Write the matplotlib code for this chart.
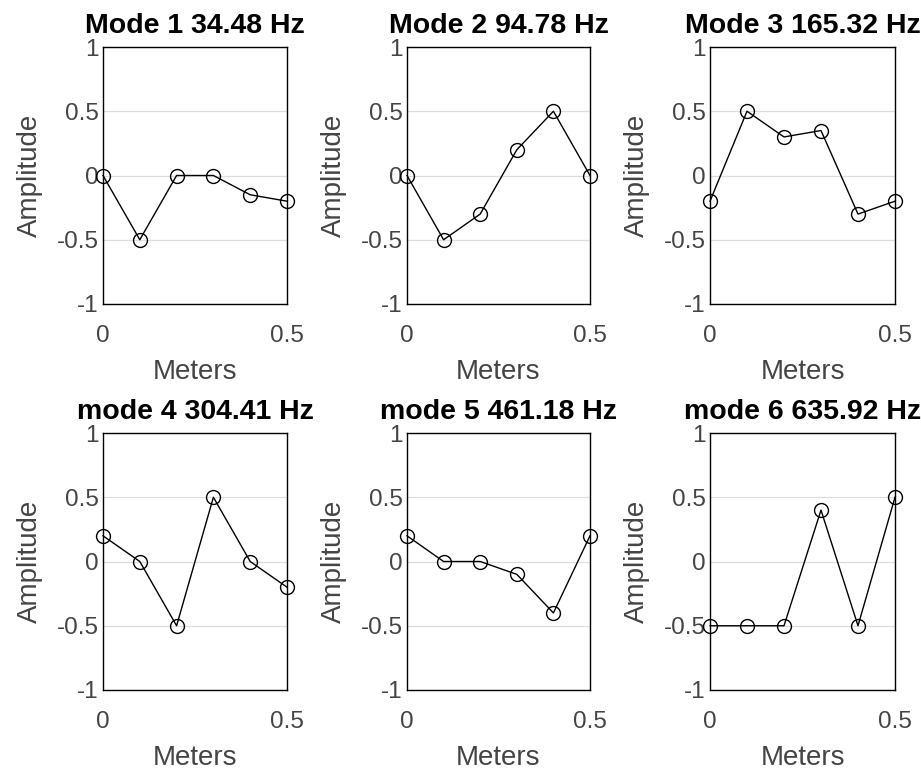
import matplotlib.pyplot as plt
import numpy as np

plt.rcParams['font.family'] = ['Liberation Sans', 'DejaVu Sans']

# posiciones a lo largo de la viga (m)
metros = [0.0, 0.1, 0.2, 0.3, 0.4, 0.5]

titulos = ["Mode 1 34.48 Hz", "Mode 2 94.78 Hz", "Mode 3 165.32 Hz",
           "mode 4 304.41 Hz", "mode 5 461.18 Hz", "mode 6 635.92 Hz"]

modo1 = [0.0, -0.5, 0.0, 0.0, -0.15, -0.2]
modo2 = [0.0, -0.5, -0.3, 0.2, 0.5, 0.0]
modo3 = [-0.2, 0.5, 0.3, 0.35, -0.3, -0.2]
modo4 = [0.2, 0.0, -0.5, 0.5, 0.0, -0.2]
modo5 = [0.2, 0.0, 0.0, -0.1, -0.4, 0.2]
modo6 = [-0.5, -0.5, -0.5, 0.4, -0.5, 0.5]
modos = [modo1, modo2, modo3, modo4, modo5, modo6]

y_ticks = [-1, -0.5, 0, 0.5, 1]
y_labels = ["-1", "-0.5", "0", "0.5", "1"]
x_ticks = [0, 0.5]
x_labels = ["0", "0.5"]

fig = plt.figure(figsize=(9.21, 7.71), dpi=100)

W, H = 921, 771
lefts = [103, 407, 710]
anchos = [184, 183, 185]
tops = [47, 433]
alto = 257

gris = "#444444"

for i, valores in enumerate(modos):
    fila, col = divmod(i, 3)
    ax = fig.add_axes([lefts[col] / W, (H - tops[fila] - alto) / H,
                       anchos[col] / W, alto / H])
    ax.plot(metros, valores, color="black", linewidth=1.0, marker="o",
            markersize=10, markerfacecolor="none", markeredgecolor="black",
            markeredgewidth=1.0, clip_on=False, zorder=3)
    ax.set_xlim(0, 0.5)
    ax.set_ylim(-1, 1)
    ax.set_xticks(x_ticks)
    ax.set_xticklabels(x_labels)
    ax.set_yticks(y_ticks)
    ax.set_yticklabels(y_labels)
    ax.tick_params(axis="both", length=0, labelsize=17.5, labelcolor=gris)
    ax.tick_params(axis="x", pad=15)
    ax.tick_params(axis="y", pad=3)
    ax.grid(axis="y", color="#dddddd", linewidth=0.9)
    ax.set_axisbelow(True)
    for s in ax.spines.values():
        s.set_color("black")
        s.set_linewidth(1.0)
    ax.set_title(titulos[i], fontsize=20.5, fontweight="bold", pad=10)
    ax.set_xlabel("Meters", fontsize=20, color=gris, labelpad=9)
    ax.set_ylabel("Amplitude", fontsize=20, color=gris, labelpad=10)

plt.savefig("out.png", dpi=100)
